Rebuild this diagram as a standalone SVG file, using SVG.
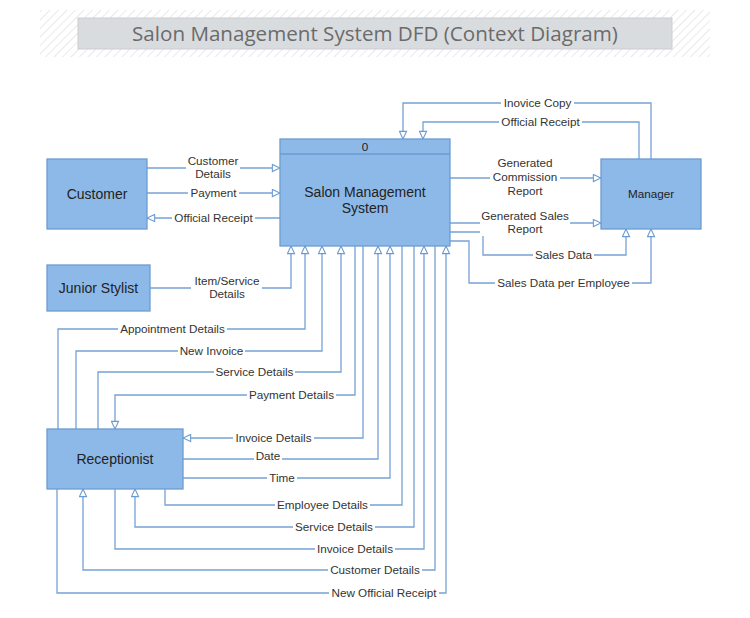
<svg xmlns="http://www.w3.org/2000/svg" width="750" height="618" viewBox="0 0 750 618">
<style>
.box{fill:#8DB9E9;stroke:#6C9BD2;stroke-width:1.3}
.nt{font-family:"Liberation Sans",Arial,sans-serif;font-size:14px;fill:#222;text-anchor:middle}
.ns{font-family:"Liberation Sans",Arial,sans-serif;font-size:11.7px;fill:#222;text-anchor:middle}
.c{fill:none;stroke:#76A2D6;stroke-width:1.3}
.a{marker-end:url(#arr)}
.lb{fill:#fff}
.lt{font-family:"Liberation Sans",Arial,sans-serif;font-size:11.7px;fill:#333;text-anchor:middle}
</style>
<defs>
<pattern id="hatch" patternUnits="userSpaceOnUse" width="6" height="6" patternTransform="rotate(45)">
<rect width="6" height="6" fill="#fff"/>
<line x1="0" y1="0" x2="0" y2="6" stroke="#e2e2e2" stroke-width="1.5"/>
</pattern>
<marker id="arr" viewBox="0 0 10 10" refX="9.5" refY="5" markerWidth="9" markerHeight="9" markerUnits="userSpaceOnUse" orient="auto">
<path d="M1,1 L9.5,5 L1,9 z" fill="#fff" stroke="#6C9BD2" stroke-width="1.2"/>
</marker>
</defs>
<rect width="750" height="618" fill="#fff"/>
<g id="title">
<rect x="40" y="10" width="670" height="47" fill="url(#hatch)"/>
<rect x="78" y="18" width="594" height="31" fill="#D9DCDF" stroke="#C9CDD1" stroke-width="1"/>
<text x="375" y="41" font-family="'Open Sans',sans-serif" font-size="20.6" fill="#6b6b6b" text-anchor="middle">Salon Management System DFD (Context Diagram)</text>
</g>
<g id="connectors">
<path class="c a" d="M147,168 H280"/>
<path class="c a" d="M147,193 H280"/>
<path class="c a" d="M280,218 H147"/>
<path class="c a" d="M150,288 H291 V246"/>
<path class="c a" d="M651,159 V103 H403 V139"/>
<path class="c a" d="M639,159 V122 H423 V139"/>
<path class="c a" d="M450,178 H601"/>
<path class="c a" d="M450,223 H601"/>
<path class="c a" d="M450,232 H483 V255 H626 V229"/>
<path class="c a" d="M450,241 H469 V283 H651 V229"/>
<path class="c a" d="M58,429 V329 H305 V246"/>
<path class="c a" d="M76,429 V351 H322 V246"/>
<path class="c a" d="M98,429 V372 H341 V246"/>
<path class="c a" d="M355,246 V395 H115 V429"/>
<path class="c a" d="M363,246 V438 H183"/>
<path class="c a" d="M183,459 H378 V246"/>
<path class="c a" d="M183,478 H390 V246"/>
<path class="c" d="M165,489 V505 H402 V246"/>
<path class="c a" d="M414,246 V527 H135 V489"/>
<path class="c a" d="M115,489 V549 H424 V246"/>
<path class="c a" d="M435,246 V570 H83 V489"/>
<path class="c a" d="M57,489 V593 H446 V246"/>
</g>
<g id="labels">
<rect class="lb" x="186" y="155" width="54" height="26"/>
<text class="lt" x="213" y="165">Customer</text>
<text class="lt" x="213" y="178">Details</text>
<rect class="lb" x="188" y="186" width="51" height="14"/>
<text class="lt" x="213.5" y="197">Payment</text>
<rect class="lb" x="172" y="211" width="83" height="14"/>
<text class="lt" x="213.5" y="222">Official Receipt</text>
<rect class="lb" x="191" y="274" width="71" height="27"/>
<text class="lt" x="227" y="285">Item/Service</text>
<text class="lt" x="227" y="298">Details</text>
<rect class="lb" x="501" y="96" width="73" height="14"/>
<text class="lt" x="537.5" y="107">Inovice Copy</text>
<rect class="lb" x="499" y="115" width="83" height="14"/>
<text class="lt" x="540.5" y="126">Official Receipt</text>
<rect class="lb" x="490" y="156" width="70" height="41"/>
<text class="lt" x="525" y="167">Generated</text>
<text class="lt" x="525" y="181">Commission</text>
<text class="lt" x="525" y="195">Report</text>
<rect class="lb" x="480" y="209" width="90" height="27"/>
<text class="lt" x="525" y="220">Generated Sales</text>
<text class="lt" x="525" y="233">Report</text>
<rect class="lb" x="533" y="248" width="61" height="14"/>
<text class="lt" x="563.5" y="259">Sales Data</text>
<rect class="lb" x="495" y="276" width="137" height="14"/>
<text class="lt" x="563.5" y="287">Sales Data per Employee</text>
<rect class="lb" x="118" y="322" width="109" height="14"/>
<text class="lt" x="172.5" y="333">Appointment Details</text>
<rect class="lb" x="178" y="344" width="67" height="14"/>
<text class="lt" x="211.5" y="355">New Invoice</text>
<rect class="lb" x="214" y="365" width="81" height="14"/>
<text class="lt" x="254.5" y="376">Service Details</text>
<rect class="lb" x="247" y="388" width="89" height="14"/>
<text class="lt" x="291.5" y="399">Payment Details</text>
<rect class="lb" x="233" y="431" width="81" height="14"/>
<text class="lt" x="273.5" y="442">Invoice Details</text>
<rect class="lb" x="254" y="450" width="28" height="14"/>
<text class="lt" x="268" y="460">Date</text>
<rect class="lb" x="267" y="471" width="30" height="14"/>
<text class="lt" x="282" y="482">Time</text>
<rect class="lb" x="275" y="498" width="95" height="14"/>
<text class="lt" x="322.5" y="509">Employee Details</text>
<rect class="lb" x="293" y="520" width="82" height="14"/>
<text class="lt" x="334" y="531">Service Details</text>
<rect class="lb" x="315" y="542" width="80" height="14"/>
<text class="lt" x="355" y="553">Invoice Details</text>
<rect class="lb" x="328" y="563" width="94" height="14"/>
<text class="lt" x="375" y="574">Customer Details</text>
<rect class="lb" x="329" y="586" width="110" height="14"/>
<text class="lt" x="384" y="597">New Official Receipt</text>
</g>
<g id="customer">
<rect class="box" x="47" y="159" width="100" height="70"/>
<text class="nt" x="97" y="199">Customer</text>
</g>
<g id="junior-stylist">
<rect class="box" x="47" y="265" width="103" height="46"/>
<text class="nt" x="98.5" y="293">Junior Stylist</text>
</g>
<g id="receptionist">
<rect class="box" x="47" y="429" width="136" height="60"/>
<text class="nt" x="115" y="464">Receptionist</text>
</g>
<g id="manager">
<rect class="box" x="601" y="159" width="100" height="70"/>
<text class="ns" x="651" y="198">Manager</text>
</g>
<g id="process-0">
<rect class="box" x="280" y="139" width="170" height="107"/>
<line x1="280" y1="154" x2="450" y2="154" stroke="#6C9BD2" stroke-width="1.3"/>
<text class="ns" x="365" y="151">0</text>
<text class="nt" x="365" y="197">Salon Management</text>
<text class="nt" x="365" y="213">System</text>
</g>
</svg>
